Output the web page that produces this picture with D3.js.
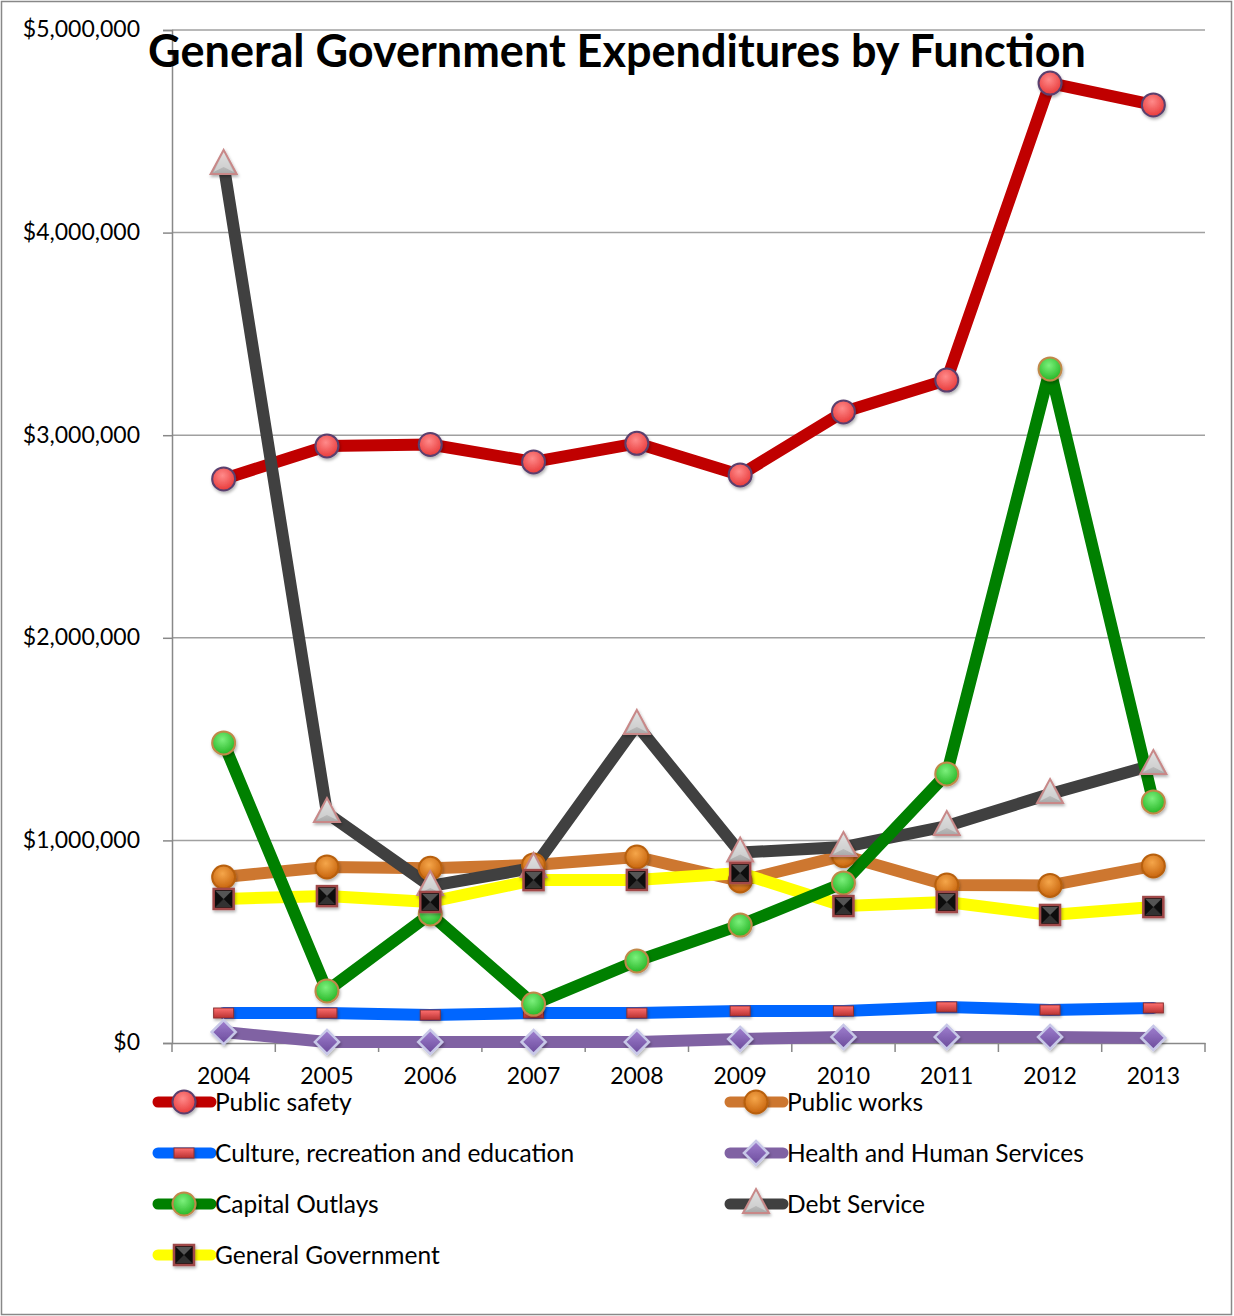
<!DOCTYPE html>
<html><head><meta charset="utf-8">
<script src="https://cdn.jsdelivr.net/npm/d3@7"></script>
<style>
html,body{margin:0;padding:0;background:#fff;}
svg{display:block;}
text{font-family:"Lato","Open Sans",sans-serif;fill:#000;}
</style></head>
<body><svg id="c" width="1234" height="1316"></svg>
<script>
const years = ["2004","2005","2006","2007","2008","2009","2010","2011","2012","2013"];
const yTicks = [0, 1000000, 2000000, 3000000, 4000000, 5000000];
const seriesNames = ["Public safety","Public works","Culture, recreation and education","Health and Human Services","Capital Outlays","Debt Service","General Government"];
const publicSafety = [2784000, 2947000, 2954000, 2868000, 2960000, 2804000, 3115000, 3272000, 4738000, 4630000];
const publicWorks  = [819000, 869000, 862000, 879000, 918000, 800000, 925000, 780000, 778000, 874000];
const culture      = [148000, 148000, 138000, 148000, 148000, 158000, 158000, 178000, 163000, 173000];
const health       = [54000, 5000, 5000, 5000, 5000, 20000, 30000, 30000, 30000, 25000];
const capital      = [1481000, 257000, 637000, 192000, 405000, 582000, 790000, 1328000, 3327000, 1190000];
const debtService  = [4334000, 1135000, 775000, 864000, 1570000, 940000, 967000, 1071000, 1229000, 1372000];
const generalGov   = [711000, 725000, 696000, 804000, 805000, 839000, 676000, 696000, 632000, 671000];

(function(){
const svg = d3.select("#c");
const W = 1234, H = 1316;
const pLeft = 172, pRight = 1205, pTop = 30, pBottom = 1043;

// outer border
svg.append("rect").attr("x",1.5).attr("y",1.5).attr("width",W-4).attr("height",H-3)
  .attr("fill","#fff").attr("stroke","#888").attr("stroke-width",1.5);

const defs = svg.append("defs");
const sh = defs.append("filter").attr("id","sh").attr("x","-50%").attr("y","-50%").attr("width","200%").attr("height","200%");
sh.append("feDropShadow").attr("dx",1).attr("dy",2).attr("stdDeviation",1.5).attr("flood-color","#000").attr("flood-opacity",0.3);
function radial(id, c0, c1){
  const g = defs.append("radialGradient").attr("id",id).attr("cx","45%").attr("cy","35%").attr("r","65%");
  g.append("stop").attr("offset","0%").attr("stop-color",c0);
  g.append("stop").attr("offset","100%").attr("stop-color",c1);
}
radial("gRed","#ff8a8a","#e83a3a");
radial("gOrange","#f5a64a","#c8650e");
radial("gGreen","#7cf07c","#26b626");
function linear(id, c0, c1){
  const g = defs.append("linearGradient").attr("id",id).attr("x1",0).attr("y1",0).attr("x2",0).attr("y2",1);
  g.append("stop").attr("offset","0%").attr("stop-color",c0);
  g.append("stop").attr("offset","100%").attr("stop-color",c1);
}
linear("gDash","#ff7070","#b83030");
linear("gTri","#e6e6e6","#a8a8a8");
linear("gDia","#a080d0","#6a4a9a");

const x = d3.scaleBand().domain(years).range([pLeft,pRight]).padding(0);
const y = d3.scaleLinear().domain([0,5000000]).range([pBottom,pTop]);
const cx = d => x(d) + x.bandwidth()/2;

// gridlines
svg.append("g").selectAll("line").data(yTicks.filter(t=>t>0)).join("line")
  .attr("x1",pLeft).attr("x2",pRight).attr("y1",d=>y(d)).attr("y2",d=>y(d))
  .attr("stroke","#a0a0a0").attr("stroke-width",1.5);

// y axis
const yAxis = d3.axisLeft(y).tickValues(yTicks).tickSize(9).tickPadding(23)
  .tickFormat(d => "$" + d3.format(",")(d));
const ya = svg.append("g").attr("transform",`translate(${pLeft},0)`).call(yAxis);
ya.select(".domain").attr("stroke","#888").attr("stroke-width",1.5);
ya.selectAll(".tick line").attr("stroke","#888").attr("stroke-width",1.5);
ya.selectAll("text").attr("font-size",23).attr("font-family","Lato, sans-serif").attr("fill","#000").attr("dy","0.3em");

// x axis
const xAxis = d3.axisBottom(x).tickSize(0).tickPadding(25);
const xa = svg.append("g").attr("transform",`translate(0,${pBottom})`).call(xAxis);
xa.select(".domain").attr("stroke","#888").attr("stroke-width",1.5);
xa.selectAll("text").attr("font-size",23).attr("font-family","Lato, sans-serif").attr("fill","#000");
// category boundary ticks
svg.append("g").selectAll("line").data(years.concat(["end"])).join("line")
  .attr("x1",(d,i)=> pLeft + i*x.bandwidth()).attr("x2",(d,i)=> pLeft + i*x.bandwidth())
  .attr("y1",pBottom).attr("y2",pBottom+9).attr("stroke","#888").attr("stroke-width",1.5);

const series = [
  {name:seriesNames[0], values:publicSafety, color:"#c00000", marker:"circle", fill:"url(#gRed)", stroke:"#5a3f6e"},
  {name:seriesNames[1], values:publicWorks, color:"#cd7730", marker:"circle", fill:"url(#gOrange)", stroke:"#b8600f"},
  {name:seriesNames[2], values:culture, color:"#0066ff", marker:"dash", fill:"url(#gDash)", stroke:"#8a3030"},
  {name:seriesNames[3], values:health, color:"#8062a3", marker:"diamond", fill:"url(#gDia)", stroke:"#c8c8e8"},
  {name:seriesNames[4], values:capital, color:"#008000", marker:"circle", fill:"url(#gGreen)", stroke:"#c08848"},
  {name:seriesNames[5], values:debtService, color:"#404040", marker:"triangle", fill:"url(#gTri)", stroke:"#c88888"},
  {name:seriesNames[6], values:generalGov, color:"#ffff00", marker:"square", fill:"#111", stroke:"#a04848"}
];

const lineGen = d3.line().x((d,i)=>cx(years[i])).y(d=>y(d));
const lineOrder = [0,1,2,3,6,5,4];
const linesG = svg.append("g");
lineOrder.forEach(k=>{
  const s = series[k];
  linesG.append("path").attr("d",lineGen(s.values)).attr("fill","none")
    .attr("stroke",s.color).attr("stroke-width",12).attr("stroke-linecap","round").attr("stroke-linejoin","round");
});

function drawMarker(g, s, px, py){
  const m = g.append("g").attr("transform",`translate(${px},${py})`).attr("filter","url(#sh)");
  if(s.marker==="circle"){
    m.append("circle").attr("r",11.5).attr("fill",s.fill).attr("stroke",s.stroke).attr("stroke-width",2);
  } else if(s.marker==="dash"){
    m.append("rect").attr("x",-10).attr("y",-5).attr("width",20).attr("height",10).attr("fill",s.fill).attr("stroke",s.stroke).attr("stroke-width",1);
  } else if(s.marker==="diamond"){
    m.append("path").attr("d","M0,-12L12,0L0,12L-12,0Z").attr("fill",s.fill).attr("stroke",s.stroke).attr("stroke-width",2.5);
  } else if(s.marker==="triangle"){
    m.append("path").attr("d","M0,-15L13,9L-13,9Z").attr("fill",s.fill).attr("stroke",s.stroke).attr("stroke-width",2);
    m.append("path").attr("d","M0,-12L10,7L0,2L-10,7Z").attr("fill","#e0e0e0").attr("opacity",0.6);
  } else if(s.marker==="square"){
    m.append("rect").attr("x",-10).attr("y",-10).attr("width",20).attr("height",20).attr("fill",s.fill).attr("stroke",s.stroke).attr("stroke-width",2.5);
    m.append("path").attr("d","M-8,-8L0,0L8,-8Z").attr("fill","#555");
    m.append("path").attr("d","M-8,8L0,0L8,8Z").attr("fill","#333");
  }
}

const markG = svg.append("g");
series.forEach(s=>{
  s.values.forEach((v,i)=> drawMarker(markG, s, cx(years[i]), y(v)));
});

// title
svg.append("text").attr("x",617).attr("y",67).attr("text-anchor","middle")
  .attr("font-size",45).attr("font-weight","bold").attr("font-family","Lato, sans-serif")
  .text("General Government Expenditures by Function");

// legend
const legPos = [[155,1102],[727,1102],[155,1153],[727,1153],[155,1204],[727,1204],[155,1255]];
const legG = svg.append("g");
series.forEach((s,i)=>{
  const [lx,ly] = legPos[i];
  legG.append("line").attr("x1",lx+3).attr("x2",lx+56).attr("y1",ly).attr("y2",ly)
    .attr("stroke",s.color).attr("stroke-width",11).attr("stroke-linecap","round");
  drawMarker(legG, s, lx+29, ly);
  legG.append("text").attr("x",lx+60).attr("y",ly).attr("dy","0.35em")
    .attr("font-size",24.5).attr("font-family","Lato, sans-serif").text(s.name);
});
})();
</script></body></html>
